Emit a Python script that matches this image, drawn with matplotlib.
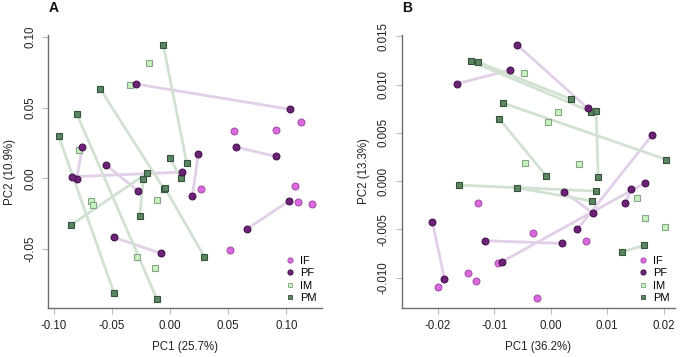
import matplotlib
matplotlib.use("Agg")
import matplotlib.pyplot as plt
from matplotlib.lines import Line2D

plt.rcParams['font.family'] = ['Liberation Sans', 'DejaVu Sans']

# ---------------- Panel A data ----------------
a_if_x = [0.1123, 0.0546, 0.0910, 0.0262, 0.1071, 0.1100, 0.1223, 0.0515]
a_if_y = [0.0400, 0.0336, 0.0343, -0.0073, -0.0054, -0.0167, -0.0184, -0.0509]
# PF: consecutive pairs (0-1, 2-3, ...) are joined by a line
a_pf_x = [-0.0294, 0.1034, 0.0566, 0.0908, -0.0756, -0.0805, -0.0843, 0.0099,
          0.0242, 0.0190, -0.0550, -0.0280, -0.0484, -0.0079, 0.0661, 0.1022]
a_pf_y = [0.0666, 0.0487, 0.0221, 0.0155, 0.0219, -0.0003, 0.0011, 0.0044,
          0.0174, -0.0127, 0.0094, -0.0087, -0.0417, -0.0530, -0.0358, -0.0160]
a_im_x = [-0.0185, -0.0346, -0.0785, -0.0111, -0.0684, -0.0664, -0.0286, -0.0131]
a_im_y = [0.0816, 0.0657, 0.0200, -0.0155, -0.0162, -0.0186, -0.0556, -0.0631]
a_pm_x = [-0.0059, 0.0142, -0.0960, -0.0484, -0.0802, -0.0116, -0.0602, -0.0053,
          -0.0047, 0.0294, -0.0002, 0.0093, -0.0854, -0.0202, -0.0262, -0.0231]
a_pm_y = [0.0941, 0.0108, 0.0299, -0.0808, 0.0452, -0.0850, 0.0631, -0.0076,
          -0.0066, -0.0553, 0.0143, 0.0000, -0.0330, 0.0035, -0.0266, -0.0007]
a_xticks = [-0.10, -0.05, 0.00, 0.05, 0.10]
a_yticks = [-0.05, 0.00, 0.05, 0.10]
a_xlabel = "PC1 (25.7%)"
a_ylabel = "PC2 (10.9%)"

# ---------------- Panel B data ----------------
b_if_x = [-0.01283, -0.00315, -0.00929, -0.01462, -0.01315, -0.01994, -0.00239, 0.00625]
b_if_y = [-0.00224, -0.00534, -0.00852, -0.00948, -0.01031, -0.01097, -0.01214, -0.00624]
b_pf_x = [-0.01651, -0.00717, -0.00592, 0.00657, -0.02091, -0.01880, -0.01157, 0.00200,
          0.01793, 0.00473, -0.00859, 0.01663, 0.00245, 0.00750, 0.01429, 0.01320]
b_pf_y = [0.01010, 0.01151, 0.01410, 0.00755, -0.00428, -0.01010, -0.00617, -0.00645,
          0.00476, -0.00500, -0.00834, -0.00021, -0.00114, -0.00331, -0.00086, -0.00224]
b_im_x = [-0.00467, -0.00054, 0.00125, -0.00456, 0.00500, 0.01532, 0.01668, 0.02032]
b_im_y = [0.01117, 0.00610, 0.00714, 0.00183, 0.00179, -0.00172, -0.00386, -0.00479]
b_pm_x = [-0.01413, 0.00712, -0.01283, 0.00364, -0.00848, 0.02043, -0.00913, -0.00080,
          0.00804, 0.00842, -0.01614, 0.00799, -0.00598, 0.00739, 0.01657, 0.01271]
b_pm_y = [0.01241, 0.00721, 0.01234, 0.00848, 0.00810, 0.00224, 0.00648, 0.00055,
          0.00727, 0.00038, -0.00041, -0.00103, -0.00069, -0.00207, -0.00665, -0.00731]
b_xticks = [-0.02, -0.01, 0.00, 0.01, 0.02]
b_yticks = [-0.010, -0.005, 0.000, 0.005, 0.010, 0.015]
b_xlabel = "PC1 (36.2%)"
b_ylabel = "PC2 (13.3%)"

groups = ["IF", "PF", "IM", "PM"]

# ---------------- styles ----------------
C_IF = '#da6ade'
C_PF = '#6c2276'
C_IM = '#c8f2c0'
C_PM = '#5c8661'
E_IF = '#a04aa6'
E_PF = '#3e0f46'
E_IM = '#86a486'
E_PM = '#34523b'
L_PF = '#e2cfe8'
L_PM = '#d2e2d2'
MS = 5.0

fig = plt.figure(figsize=(6.8, 3.57), dpi=100)


def panel(rect, xlim, ylim, if_x, if_y, pf_x, pf_y, im_x, im_y, pm_x, pm_y,
          xticks, yticks, xlab, ylab, letter, yfmt):
    ax = fig.add_axes(rect)
    for i in range(0, len(pf_x), 2):
        ax.plot(pf_x[i:i + 2], pf_y[i:i + 2], color=L_PF, lw=2.0, zorder=1,
                solid_capstyle='butt')
    for i in range(0, len(pm_x), 2):
        ax.plot(pm_x[i:i + 2], pm_y[i:i + 2], color=L_PM, lw=2.0, zorder=1,
                solid_capstyle='butt')
    ax.plot(im_x, im_y, ls='none', marker='s', ms=MS * 0.9, mfc=C_IM, mec=E_IM,
            mew=0.8, zorder=3)
    ax.plot(pm_x, pm_y, ls='none', marker='s', ms=MS * 0.9, mfc=C_PM, mec=E_PM,
            mew=0.8, zorder=3)
    ax.plot(if_x, if_y, ls='none', marker='o', ms=MS, mfc=C_IF, mec=E_IF,
            mew=0.7, zorder=4)
    ax.plot(pf_x, pf_y, ls='none', marker='o', ms=MS, mfc=C_PF, mec=E_PF,
            mew=0.7, zorder=4)
    ax.set_xlim(*xlim)
    ax.set_ylim(*ylim)
    for s in ['top', 'right']:
        ax.spines[s].set_visible(False)
    for s in ['left', 'bottom']:
        ax.spines[s].set_color('#6e6e6e')
        ax.spines[s].set_linewidth(1.0)
    ax.set_xticks(xticks)
    ax.set_yticks(yticks)
    ax.set_xticklabels([f"{v:.2f}" for v in xticks])
    ax.set_yticklabels([yfmt.format(v) for v in yticks], rotation=90, va='center')
    ax.tick_params(axis='both', direction='out', length=4.5, width=0.8,
                   color='#bbbbbb', labelsize=8.3, labelcolor='#222222', pad=4)
    ax.set_xlabel(xlab, fontsize=8.3, color='#222222', labelpad=7)
    ax.set_ylabel(ylab, fontsize=8.3, color='#222222', labelpad=6)
    handles = [
        Line2D([], [], ls='none', marker='o', ms=3.8, mfc=C_IF, mec=E_IF, mew=0.6),
        Line2D([], [], ls='none', marker='o', ms=3.8, mfc=C_PF, mec=E_PF, mew=0.6),
        Line2D([], [], ls='none', marker='s', ms=3.5, mfc=C_IM, mec=E_IM, mew=0.6),
        Line2D([], [], ls='none', marker='s', ms=3.5, mfc=C_PM, mec=E_PM, mew=0.6),
    ]
    ax.legend(handles, groups, loc='lower right', frameon=False, fontsize=8,
              handlelength=0.8, handletextpad=0.5, labelspacing=0.2,
              borderaxespad=0.3, borderpad=0.15)
    fig.text(rect[0] + 0.001, 0.997, letter, fontsize=10, fontweight='bold',
             ha='left', va='top', color='#111111')
    return ax


bottom = 0.138
height = 0.901 - 0.138
panel([0.0710, bottom, 0.4735 - 0.0710, height], (-0.1049, 0.1306), (-0.0914, 0.1010),
      a_if_x, a_if_y, a_pf_x, a_pf_y, a_im_x, a_im_y, a_pm_x, a_pm_y,
      a_xticks, a_yticks, a_xlabel, a_ylabel, "A", "{:.2f}")
panel([0.5907, bottom, 0.9926 - 0.5907, height], (-0.02636, 0.0220), (-0.01311, 0.0151),
      b_if_x, b_if_y, b_pf_x, b_pf_y, b_im_x, b_im_y, b_pm_x, b_pm_y,
      b_xticks, b_yticks, b_xlabel, b_ylabel, "B", "{:.3f}")

fig.savefig("out.png", dpi=100)
